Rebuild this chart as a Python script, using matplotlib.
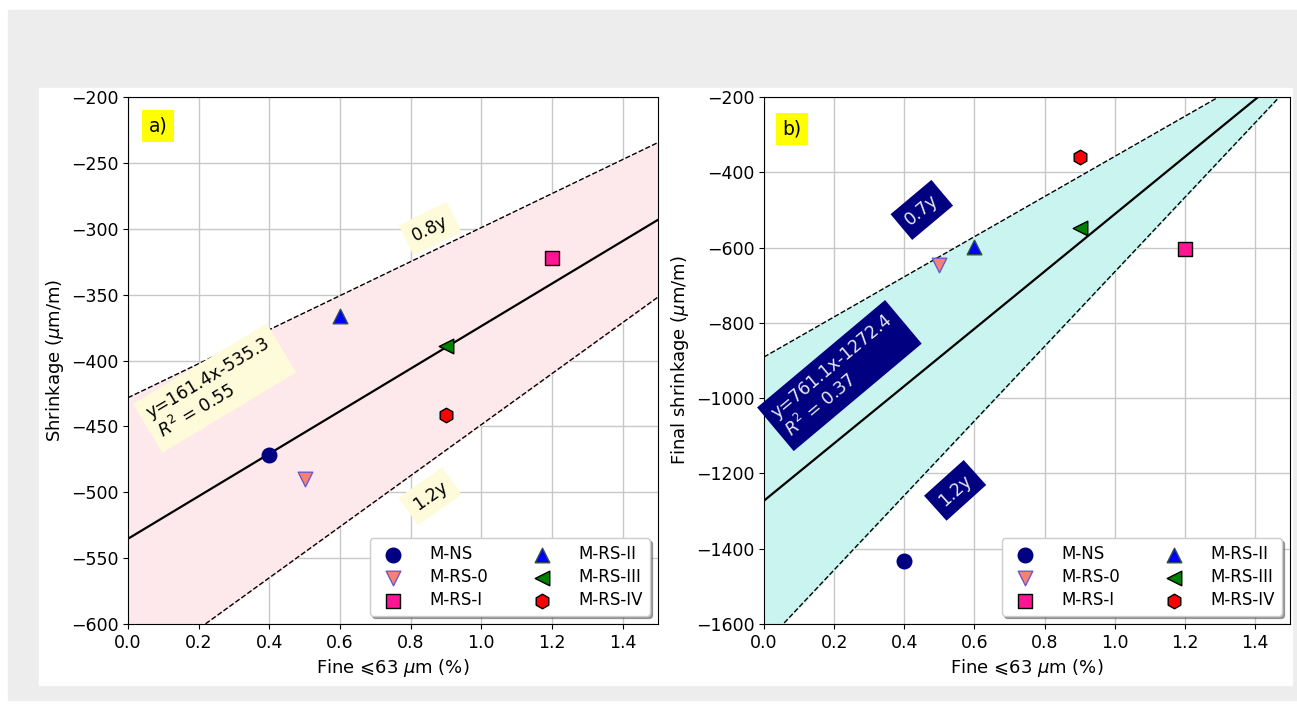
import matplotlib.pyplot as plt
import numpy as np
from matplotlib.patches import Rectangle

# Mix names and marker styles
mixes = ['M-NS', 'M-RS-0', 'M-RS-I', 'M-RS-II', 'M-RS-III', 'M-RS-IV']
markers = ['o', 'v', 's', '^', '<', 'h']
faces = ['navy', 'salmon', 'deeppink', 'blue', 'green', 'red']
edges = ['navy', 'slateblue', 'black', 'darkslategray', 'black', 'black']

# Fine content (%) and shrinkage values
fines = [0.4, 0.5, 1.2, 0.6, 0.9, 0.9]
shrink_a = [-472, -490, -322, -366, -389, -441]
shrink_b = [-1433, -647, -604, -598, -549, -359]

# Linear fits and band factors
fit_a = (161.4, -535.3, 0.55)
fit_b = (761.1, -1272.4, 0.37)
band_a = (0.8, 1.2)
band_b = (0.7, 1.3)

fig = plt.figure(figsize=(12.97, 7.11), dpi=100)
fig.add_artist(Rectangle((8 / 1297, 1 - 700 / 711), 1289 / 1297, 690 / 711,
                         transform=fig.transFigure, color='#ededed', zorder=-2))
fig.add_artist(Rectangle((39 / 1297, 1 - 685 / 711), 1253 / 1297, 597 / 711,
                         transform=fig.transFigure, color='white', zorder=-1))

ax1 = fig.add_axes([128 / 1297, 1 - 624 / 711, 530 / 1297, 527 / 711])
ax2 = fig.add_axes([764 / 1297, 1 - 624 / 711, 526 / 1297, 527 / 711])

x = np.linspace(0, 1.5, 200)


def panel(ax, ys, fit, band, fill, ylim, yticks, ylabel):
    slope, icpt, r2 = fit
    y = slope * x + icpt
    ax.fill_between(x, band[0] * y, band[1] * y, color=fill, zorder=1)
    ax.plot(x, band[0] * y, 'k--', lw=1, zorder=2)
    ax.plot(x, band[1] * y, 'k--', lw=1, zorder=2)
    ax.plot(x, y, 'k-', lw=1.6, zorder=2)
    for name, m, fc, ec, xv, yv in zip(mixes, markers, faces, edges, fines, ys):
        ax.scatter(xv, yv, marker=m, s=110, c=fc, edgecolors=ec,
                   linewidths=1, label=name, zorder=3)
    ax.set_xlim(0, 1.5)
    ax.set_ylim(*ylim)
    ax.set_xticks(np.arange(0, 1.41, 0.2))
    ax.set_yticks(yticks)
    ax.tick_params(labelsize=12.5)
    ax.grid(True, color='#c8c8c8', lw=1, zorder=0)
    ax.set_axisbelow(True)
    ax.set_xlabel('Fine \u2a7d63 $\\mu$m (%)', fontsize=13)
    ax.set_ylabel(ylabel, fontsize=13, labelpad=3)
    ax.legend(loc='lower right', ncol=2, fontsize=12, shadow=True,
              columnspacing=2.2, handletextpad=1.2, borderpad=0.4,
              labelspacing=0.3, framealpha=1)


panel(ax1, shrink_a, fit_a, band_a, '#fde9eb', (-600, -200),
      np.arange(-600, -199, 50), r'Shrinkage ($\mu$m/m)')
panel(ax2, shrink_b, fit_b, band_b, '#caf4f0', (-1600, -200),
      np.arange(-1600, -199, 200), r'Final shrinkage ($\mu$m/m)')

# Panel a annotations
light = dict(boxstyle='square,pad=0.45', fc='#fdfbd9', ec='none')
ax1.text(0.085, -222, 'a)', fontsize=13.5, bbox=dict(boxstyle='square,pad=0.35',
         fc='yellow', ec='none'), va='center', ha='center')
ax1.text(0.855, -300, '0.8y', rotation=26, fontsize=12.5, ha='center',
         va='center', bbox=light)
ax1.text(0.855, -503, '1.2y', rotation=35, fontsize=12.5, ha='center',
         va='center', bbox=light)
ax1.text(0.245, -421, 'y=%.1fx%.1f\n$R^2$ = %.2f' % fit_a, rotation=31,
         fontsize=12.5, ha='center', va='center', multialignment='left',
         linespacing=1.2, bbox=light)

# Panel b annotations
dark = dict(boxstyle='square,pad=0.45', fc='navy', ec='none')
ax2.text(0.08, -285, 'b)', fontsize=13.5, bbox=dict(boxstyle='square,pad=0.35',
         fc='yellow', ec='none'), va='center', ha='center')
ax2.text(0.45, -500, '0.7y', rotation=40, fontsize=12.5, ha='center',
         va='center', color='#e8e8f0', bbox=dark)
ax2.text(0.545, -1245, '1.2y', rotation=42, fontsize=12.5, ha='center',
         va='center', color='#e8e8f0', bbox=dark)
ax2.text(0.215, -940, 'y=%.1fx%.1f\n$R^2$ = %.2f' % fit_b, rotation=40,
         fontsize=12.5, ha='center', va='center', multialignment='left',
         linespacing=1.2, color='#e8e8f0', bbox=dark)

fig.savefig('out.png', dpi=100)
